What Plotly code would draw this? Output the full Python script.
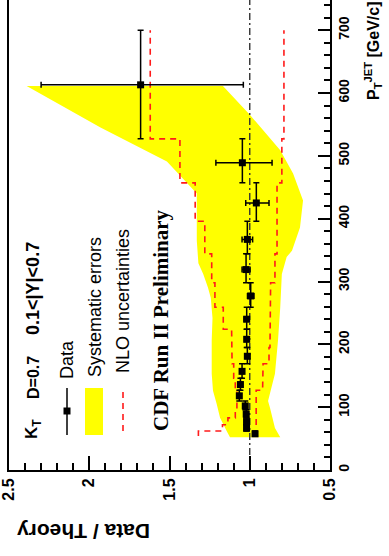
import plotly.graph_objects as go

# ---- measured ratio Data/Theory, inclusive kT jets D=0.7, 0.1<|Y|<0.7 ----
bin_lo = [54, 62, 72, 83, 96, 110, 127, 146, 169, 195, 224, 259, 298, 344, 396, 457, 527]
bin_hi = [62, 72, 83, 96, 110, 127, 146, 169, 195, 224, 259, 298, 344, 396, 457, 527, 700]
pt_center = [57.6, 66.5, 77, 89, 102, 118, 136, 157, 181, 208, 240, 277, 319, 367, 425, 489, 613]
ratio = [0.967, 1.02, 1.02, 1.022, 1.028, 1.065, 1.058, 1.048, 1.015, 1.019,
         1.019, 0.994, 1.023, 1.015, 0.959, 1.046, 1.68]
stat_up = [0.004, 0.004, 0.004, 0.005, 0.006, 0.007, 0.008, 0.009, 0.011, 0.013,
           0.016, 0.02, 0.025, 0.033, 0.066, 0.165, 0.62]
stat_dn = [0.004, 0.004, 0.004, 0.005, 0.006, 0.007, 0.008, 0.009, 0.011, 0.013,
           0.016, 0.02, 0.025, 0.033, 0.079, 0.185, 0.64]

# ---- systematic error band (upper and lower edges) ----
sys_hi_pt = [52, 62, 83, 105, 126, 153, 206, 242, 274, 290, 312, 329, 365, 381, 413, 440, 491, 545, 611]
sys_hi = [1.123, 1.144, 1.185, 1.206, 1.229, 1.237, 1.237, 1.232, 1.243, 1.26, 1.29, 1.32,
          1.33, 1.33, 1.33, 1.33, 1.516, 1.93, 2.39]
sys_lo_pt = [611, 565, 509, 472, 429, 386, 349, 339, 312, 259, 206, 153, 110, 99, 67, 52]
sys_lo = [1.167, 0.998, 0.81, 0.73, 0.668, 0.687, 0.737, 0.77, 0.80, 0.81, 0.824, 0.843,
          0.886, 0.874, 0.843, 0.81]

# ---- NLO uncertainty envelope per bin ----
nlo_up = [1.32, 1.17, 1.136, 1.09, 1.08, 1.08, 1.09, 1.10, 1.11, 1.113, 1.165, 1.217,
          1.237, 1.28, 1.34, 1.435, 1.62]
nlo_dn = [0.96, 0.96, 0.96, 0.96, 0.96, 0.96, 0.92, 0.917, 0.88, 0.874, 0.874, 0.87,
          0.843, 0.83, 0.83, 0.80, 0.787]

x_ticks = [0.5, 1, 1.5, 2, 2.5]
x_tick_text = ["0.5", "1", "1.5", "2", "2.5"]
y_ticks = [0, 100, 200, 300, 400, 500, 600, 700]

X_RANGE = [2.5, 0.5]
Y_RANGE = [0, 748]

W, H = 389, 556
ML, MR, MT, MB = 9, 59, 0, 86
PW, PH = W - ML - MR, H - MT - MB


def px(x):
    return (x - ML) / PW


def py(y):
    return (H - MB - y) / PH


def steps(lo, hi, vals):
    xs, ys = [], []
    for a, b, v in zip(lo, hi, vals):
        xs += [v, v]
        ys += [a, b]
    return xs, ys


fig = go.Figure()

# systematic band
fig.add_trace(go.Scatter(
    x=sys_hi + sys_lo, y=sys_hi_pt + sys_lo_pt,
    fill="toself", fillcolor="#ffff00", mode="none", hoverinfo="skip"))

# NLO uncertainty steps
for vals in (nlo_up, nlo_dn):
    sx, sy = steps(bin_lo, bin_hi, vals)
    fig.add_trace(go.Scatter(x=sx, y=sy, mode="lines",
                             line=dict(color="#ff1a1a", width=1.6, dash="6px,5px")))

# reference line at ratio 1
fig.add_trace(go.Scatter(x=[1, 1], y=Y_RANGE, mode="lines",
                         line=dict(color="#333333", width=1.4, dash="7px,3px,2px,3px")))

# data points with statistical errors and bin widths
fig.add_trace(go.Scatter(
    x=ratio, y=pt_center, mode="markers",
    marker=dict(symbol="square", size=7, color="black"),
    error_x=dict(type="data", symmetric=False, array=stat_up, arrayminus=stat_dn,
                 color="black", thickness=1.5, width=3),
    error_y=dict(type="data", symmetric=False,
                 array=[h - c for h, c in zip(bin_hi, pt_center)],
                 arrayminus=[c - l for c, l in zip(pt_center, bin_lo)],
                 color="black", thickness=1.5, width=3)))

annotations = []


def label(text, x, y, size, angle=-90, family="Liberation Sans", weight="normal"):
    annotations.append(dict(
        text=text, x=px(x), y=py(y), xref="paper", yref="paper",
        textangle=angle, showarrow=False, xanchor="center", yanchor="middle",
        font=dict(family=family, size=size, color="black", weight=weight)))


label("K<sub>T</sub>", 33, 429, 17, weight="bold")
label("D=0.7", 33, 378, 16, weight="bold")
label("0.1&lt;|Y|&lt;0.7", 33, 289, 18, weight="bold")
label("Data", 67, 360, 18)
label("Systematic errors", 95, 307, 18)
label("NLO uncertainties", 123, 301, 18)
label("CDF Run II Preliminary", 161, 320, 21, family="Liberation Serif", weight="bold")
label("Data / Theory", 84, 532, 21, angle=180, weight="bold")
label("P<sub>T</sub><sup>JET</sup> [GeV/c]", 373, 50, 16, weight="bold")

shapes = [
    # legend: data symbol
    dict(type="line", xref="paper", yref="paper", x0=px(67), x1=px(67), y0=py(388), y1=py(435),
         line=dict(color="black", width=1.5)),
    dict(type="rect", xref="paper", yref="paper", x0=px(63.5), x1=px(70.5), y0=py(407.5), y1=py(414.5),
         fillcolor="black", line=dict(width=0)),
    # legend: systematic band
    dict(type="rect", xref="paper", yref="paper", x0=px(85), x1=px(103), y0=py(388), y1=py(435),
         fillcolor="#ffff00", line=dict(width=0)),
    # legend: NLO line
    dict(type="line", xref="paper", yref="paper", x0=px(123), x1=px(123), y0=py(392), y1=py(435),
         line=dict(color="#ff1a1a", width=1.6, dash="6px,5px")),
]

fig.update_layout(
    width=W, height=H,
    margin=dict(l=ML, r=MR, t=MT, b=MB),
    paper_bgcolor="white", plot_bgcolor="white",
    showlegend=False,
    font=dict(family="Liberation Sans", color="black"),
    annotations=annotations, shapes=shapes,
    xaxis=dict(range=X_RANGE, tickvals=x_ticks, ticktext=x_tick_text, tickangle=-90,
               ticks="inside", ticklen=14, tickwidth=1.5, tickcolor="black",
               minor=dict(dtick=0.1, ticks="inside", ticklen=7, tickwidth=1.5, tickcolor="black"),
               showline=True, linecolor="black", linewidth=2, mirror=False,
               showgrid=False, zeroline=False,
               tickfont=dict(size=16, weight="bold")),
    yaxis=dict(range=Y_RANGE, side="right", tickvals=y_ticks, tickangle=-90,
               ticks="inside", ticklen=12, tickwidth=1.5, tickcolor="black",
               minor=dict(dtick=20, ticks="inside", ticklen=6, tickwidth=1.5, tickcolor="black"),
               showline=True, linecolor="black", linewidth=2, mirror=True,
               showgrid=False, zeroline=False,
               tickfont=dict(size=14, weight="bold")),
)

fig.write_html("out.html")
